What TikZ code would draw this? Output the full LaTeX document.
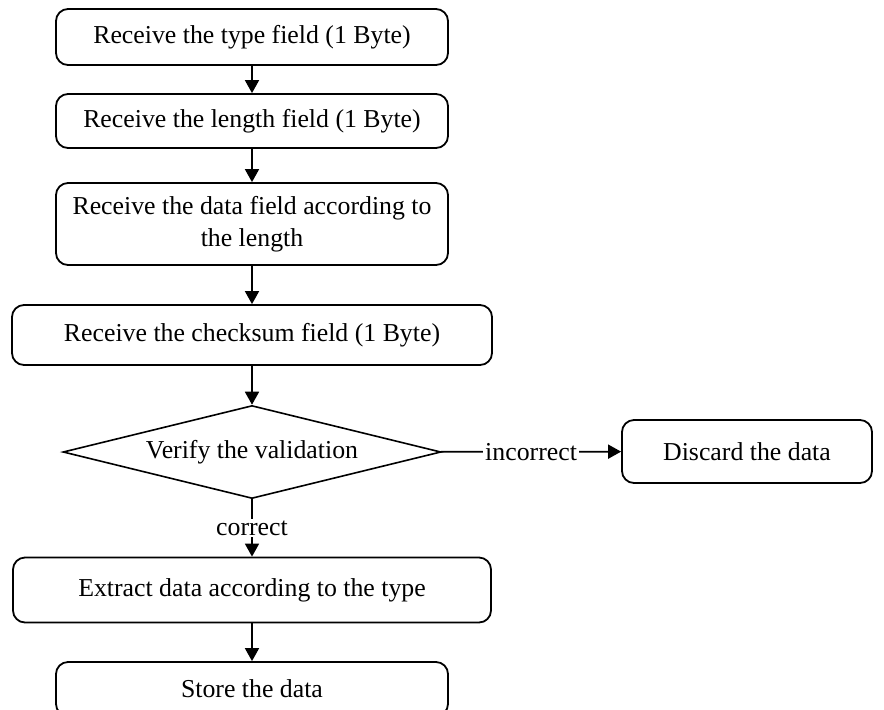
\documentclass[tikz,border=0pt]{standalone}
\usepackage{fontspec}
\setmainfont{Liberation Serif}
\usetikzlibrary{arrows.meta,shapes.geometric}

\begin{document}
\begin{tikzpicture}[x=0.5pt,y=-0.5pt,>={Triangle[length=6.5pt,width=7pt]},
    every node/.style={font=\fontsize{12.9}{16}\selectfont},
    stepbox/.style={draw,line width=0.9pt,rounded corners=6pt,align=center,inner sep=0pt},
    checkbox/.style={draw,line width=0.8pt,shape=diamond,aspect=4,inner sep=0pt},
    lbl/.style={fill=white,inner sep=1pt},
    arr/.style={->,line width=0.9pt}]
      % page frame, the last box runs off the bottom edge
      \useasboundingbox (0,0) rectangle (884,709);
      \clip (0,0) rectangle (884,709);

      % receiving steps
      \node[stepbox,minimum width=196pt,minimum height=28pt] (type) at (252,37) {Receive the type field (1 Byte)};
      \node[stepbox,minimum width=196pt,minimum height=27pt] (length) at (252,121) {Receive the length field (1 Byte)};
      \node[stepbox,minimum width=196pt,minimum height=41pt] (data) at (252,224) {Receive the data field according to\\the length};
      \node[stepbox,minimum width=240pt,minimum height=30pt] (checksum) at (252,335) {Receive the checksum field (1 Byte)};

      % check
      \node[checkbox,minimum width=189pt,minimum height=46.5pt] (verify) at (252,452) {Verify the validation};
      \node[stepbox,minimum width=125pt,minimum height=31.5pt] (discard) at (747,451.5) {Discard the data};

      % after the check
      \node[stepbox,minimum width=239pt,minimum height=32.5pt] (extract) at (252,590) {Extract data according to the type};
      \node[stepbox,minimum width=196pt,minimum height=27pt] (store) at (252,689) {Store the data};

      % connectors
      \draw[arr] (type) -- (length);
      \draw[arr] (length) -- (data);
      \draw[arr] (data) -- (checksum);
      \draw[arr] (checksum) -- (verify);
      \draw[arr] (verify) -- node[lbl] {incorrect} (discard);
      \draw[arr] (verify) -- node[lbl] {correct} (extract);
      \draw[arr] (extract) -- (store);
    \end{tikzpicture}
\end{document}
